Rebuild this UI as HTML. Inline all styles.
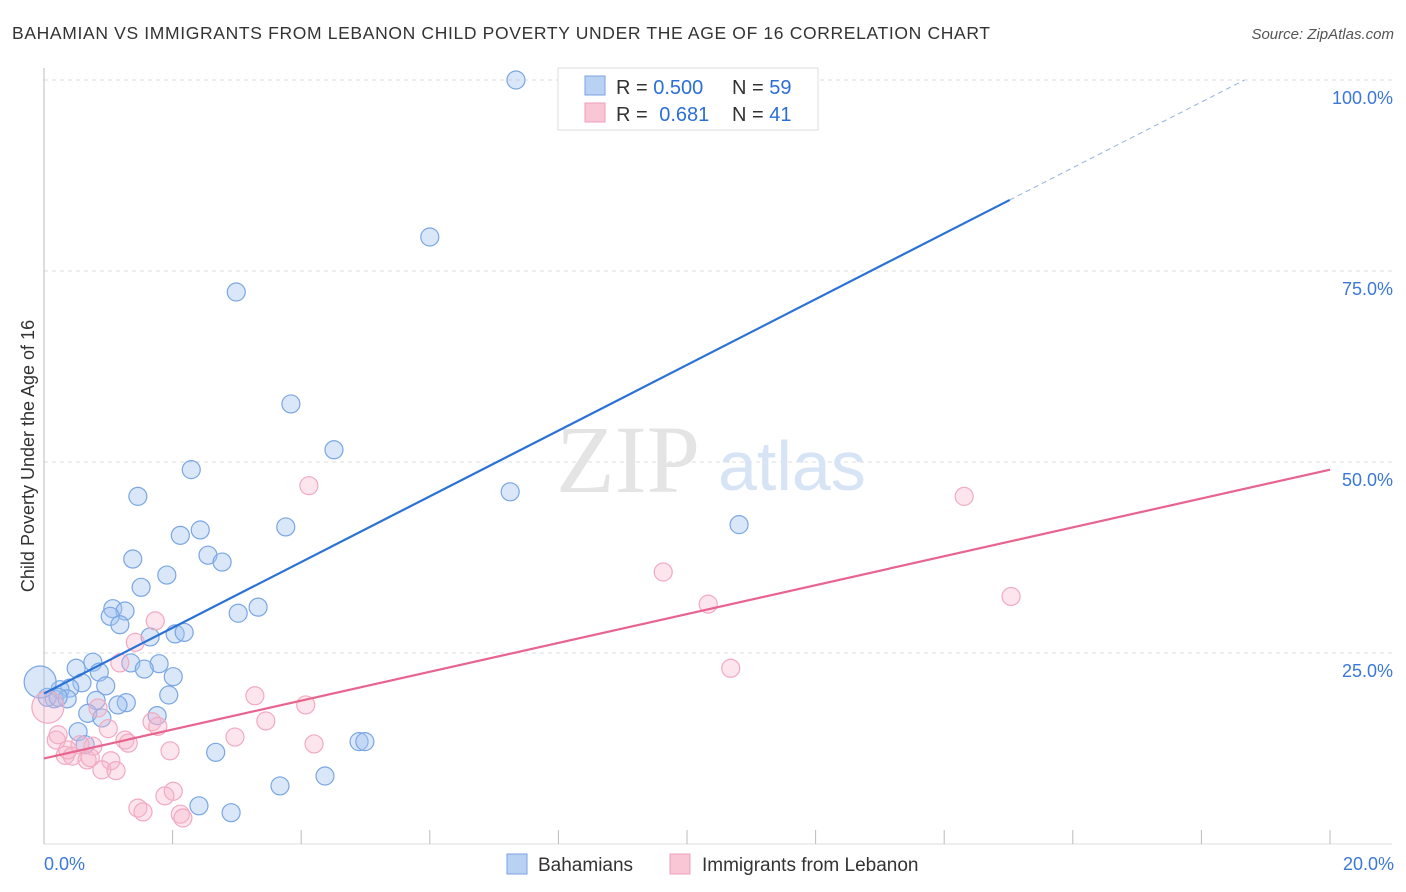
<!DOCTYPE html>
<html><head><meta charset="utf-8"><style>
body{margin:0;background:#fff;font-family:"Liberation Sans",sans-serif;}
#wrap{position:relative;width:1406px;height:892px;overflow:hidden}
</style></head><body>
<div id="wrap">
<svg id="svg" width="1406" height="892" xmlns="http://www.w3.org/2000/svg">
<text x="12" y="39" font-size="17.5" fill="#333" textLength="978" lengthAdjust="spacing">BAHAMIAN VS IMMIGRANTS FROM LEBANON CHILD POVERTY UNDER THE AGE OF 16 CORRELATION CHART</text>
<text x="1394" y="39" font-size="15" fill="#555" font-style="italic" text-anchor="end">Source: ZipAtlas.com</text>
<text transform="translate(34,456) rotate(-90)" font-size="18" fill="#333" text-anchor="middle">Child Poverty Under the Age of 16</text>
<g id="grid"></g>
<text x="556" y="492" font-size="96" fill="#e4e4e4" font-family="Liberation Serif,serif">ZIP</text>
<text x="718" y="490" font-size="70" fill="#d6e4f5">atlas</text>
<g id="pts"></g>
<g id="lines"></g>
<g>
<rect x="558" y="68" width="260" height="62" fill="#fff" stroke="#ddd"/>
<rect x="585" y="76" width="20" height="19" fill="#b9d1f3" stroke="#7aa3e0"/>
<rect x="585" y="103" width="20" height="19" fill="#f9c6d5" stroke="#ef9fb8"/>
<text x="616" y="94" font-size="20" fill="#333">R = <tspan fill="#2b6fd6">0.500</tspan></text>
<text x="732" y="94" font-size="20" fill="#333">N = <tspan fill="#2b6fd6">59</tspan></text>
<text x="616" y="121" font-size="20" fill="#333">R =  <tspan fill="#2b6fd6" dx="6">0.681</tspan></text>
<text x="732" y="121" font-size="20" fill="#333">N = <tspan fill="#2b6fd6">41</tspan></text>
</g>
<g>
<rect x="507" y="854" width="20" height="20" fill="#b9d1f3" stroke="#7aa3e0"/>
<text x="538" y="871" font-size="19" fill="#333">Bahamians</text>
<rect x="670" y="854" width="20" height="20" fill="#f9c6d5" stroke="#ef9fb8"/>
<text x="702" y="871" font-size="19" fill="#333">Immigrants from Lebanon</text>
</g>
</svg>
</div>
<script>
const yTicks=[100,75,50,25];
const yTickLabels=["100.0%","75.0%","50.0%","25.0%"];
const xLabels=["0.0%","20.0%"];
const blueX=[7.34,6.00,2.99,3.84,4.51,2.29,1.46,7.25,10.81,2.12,2.43,3.76,2.55,2.77,1.38,1.91,1.51,1.07,1.26,1.03,3.33,3.02,1.18,1.65,2.04,2.18,1.35,1.79,1.56,0.76,0.50,0.86,2.01,0.59,0.96,0.40,0.25,1.94,0.81,0.16,0.36,1.28,1.15,0.68,0.90,1.76,0.53,0.64,2.67,4.90,4.99,4.37,3.67,2.41,2.91,0.05,0.22,-0.06];
const blueY=[100,79.45,72.25,57.6,51.6,49.0,45.5,46.1,41.8,40.4,41.1,41.5,37.8,36.9,37.3,35.2,33.6,30.8,30.5,29.8,31.0,30.2,28.7,27.1,27.5,27.7,23.7,23.6,22.9,23.8,23.0,22.5,21.9,21.1,20.7,20.4,20.2,19.5,18.8,19.0,19.0,18.5,18.2,17.1,16.5,16.8,14.7,13.0,12.0,13.4,13.4,8.9,7.6,5.0,4.1,19.2,19.2,21.2];
const pinkX=[4.12,14.31,15.04,9.63,10.33,10.68,1.73,1.42,1.18,3.28,4.07,1.68,1.77,3.45,2.97,0.84,1.00,0.76,1.26,1.31,4.20,1.96,0.56,0.19,0.33,0.44,0.67,0.72,1.04,0.90,1.12,2.01,1.88,1.46,1.54,2.12,2.16,0.22,0.37,0.06];
const pinkY=[46.9,45.5,32.4,35.6,31.4,23.0,29.2,26.4,23.7,19.4,18.2,16.0,15.4,16.1,14.0,17.8,15.1,12.8,13.6,13.2,13.1,12.2,13.0,13.6,11.6,11.5,11.0,11.3,10.9,9.7,9.6,6.9,6.3,4.7,4.2,3.9,3.4,14.3,12.3,17.9];
const blueFit=[0,19.7,15.02,84.3,18.67,100];
const pinkFit=[0,11.2,20,49];
const X=v=>44+v/20*1286, Y=v=>844-v/25*191;
const NS="http://www.w3.org/2000/svg";
function mk(tag,attrs,parent){const e=document.createElementNS(NS,tag);for(const k in attrs)e.setAttribute(k,attrs[k]);parent.appendChild(e);return e;}
const grid=document.getElementById('grid');
yTicks.forEach((t,i)=>{
  const l=mk('line',{x1:44,x2:1392,y1:Y(t),y2:Y(t),stroke:'#ddd','stroke-dasharray':'4,4'},grid);
  
  
  const tx=mk('text',{x:1393,y:Y(t)+24,'font-size':18,fill:'#3b78d8','text-anchor':'end'},grid);
  tx.textContent=yTickLabels[i];
  
  
});
const ax=mk('line',{x1:44,x2:44,y1:68,y2:844,stroke:'#bbb'},grid);


const bx=mk('line',{x1:44,x2:1392,y1:844,y2:844,stroke:'#ddd'},grid);


for(let i=0;i<=10;i++){const t=mk('line',{x1:X(i*2),x2:X(i*2),y1:830,y2:844,stroke:'#bbb'},grid);
  
  }
[[0,'start',44],[1,'end',1394]].forEach(([i,a,x])=>{const t=mk('text',{x:x,y:870,'font-size':18,fill:'#3b78d8','text-anchor':a},grid);t.textContent=xLabels[i];
  
  });
const pts=document.getElementById('pts');
blueX.forEach((v,i)=>{const big=i===blueX.length-1;const c=mk('circle',{cx:X(v),cy:Y(blueY[i]),r:big?16:9,fill:'rgba(160,195,240,0.4)',stroke:'#7aa6e4','stroke-width':1.2},pts);
  
  });
pinkX.forEach((v,i)=>{const big=i===pinkX.length-1;const c=mk('circle',{cx:X(v),cy:Y(pinkY[i]),r:big?16:9,fill:'rgba(246,180,202,0.35)',stroke:'#f2aac0','stroke-width':1.2},pts);
  
  });
const lines=document.getElementById('lines');
const b1=mk('line',{x1:X(blueFit[0]),y1:Y(blueFit[1]),x2:X(blueFit[2]),y2:Y(blueFit[3]),stroke:'#2a72d6','stroke-width':2.2},lines);


const b2=mk('line',{x1:X(blueFit[2]),y1:Y(blueFit[3]),x2:X(blueFit[4]),y2:Y(blueFit[5]),stroke:'#8fb2e6','stroke-width':1,'stroke-dasharray':'5,4'},lines);


const p1=mk('line',{x1:X(pinkFit[0]),y1:Y(pinkFit[1]),x2:X(pinkFit[2]),y2:Y(pinkFit[3]),stroke:'#e8648e','stroke-width':2.2},lines);


</script>
</body></html>
